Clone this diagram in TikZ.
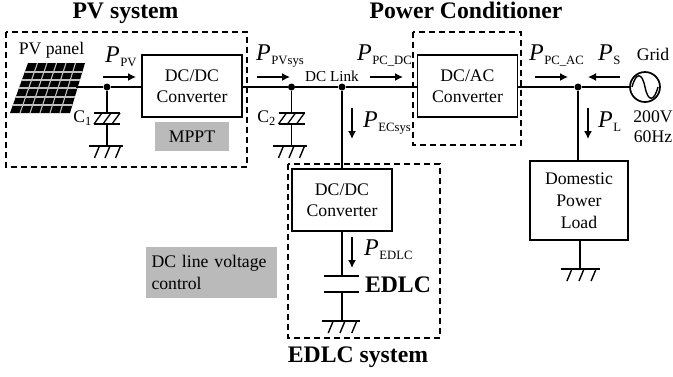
\documentclass[tikz,border=0pt]{standalone}
\usepackage{fontspec}
\setmainfont{Liberation Serif}
\usetikzlibrary{arrows.meta}
\tikzset{
 x=1pt,y=-1pt,
 wire/.style={line width=1.6pt},
 conv/.style={draw,line width=1.7pt,fill=white,align=center,font=\fontsize{17.7}{21}\selectfont,inner sep=0pt,minimum width=#1},
 conv/.default=100pt,
 dbox/.style={draw,line width=1.2pt,dash pattern=on 6pt off 4pt},
 flow/.style={line width=1.4pt,-{Latex[length=8pt,width=8pt]}},
 dot/.style={circle,fill=black,inner sep=0pt,minimum size=7pt},
 gbox/.style={fill=black!27,inner sep=0pt,font=\fontsize{17.7}{22}\selectfont},
 txt/.style={inner sep=0pt,font=\fontsize{17.7}{20}\selectfont,align=center},
 ttl/.style={inner sep=0pt,anchor=base,font=\fontsize{23.7}{26}\selectfont\bfseries},
 plab/.style={inner sep=0pt,anchor=base west,font=\fontsize{24}{24}\selectfont},
}
\newcommand{\plabel}[1]{\textit{P}\kern0.5pt{\fontsize{12.7}{13}\selectfont\raisebox{-4.5pt}{#1}}}
\newcommand{\low}[1]{\raisebox{-1.2pt}{#1}}
\newcommand{\gnd}[3]{% x, y, half width
 \draw[wire] (#1-#3,#2) -- (#1+#3,#2);
 \foreach \d in {-0.62,0,0.62}{
  \draw[line width=1.4pt] ({#1+\d*#3+4},#2) -- ({#1+\d*#3-1},#2+12);
 }}
\newcommand{\polcap}[3]{% x, ytop, ybot
 \draw[wire] (#1-13,#2) -- (#1+13,#2);
 \draw[wire] (#1-13,#3) -- (#1+13,#3);
 \foreach \d in {-8,1,10}{
  \draw[line width=1.3pt] (#1+\d+3,#2) -- (#1+\d-5,#3);
 }}
\begin{document}
\begin{tikzpicture}
\useasboundingbox (0,0) rectangle (673,376);
% dashed system boxes
\draw[dbox] (6,32) rectangle (247,167);
\draw[dbox] (413,32) rectangle (521,145);
\draw[dbox] (288,164) rectangle (440,338);
% panel
\fill (28,63) -- (85,63) -- (70,113) -- (10,113) -- cycle;
\begin{scope}
\clip (28,63) -- (85,63) -- (70,113) -- (10,113) -- cycle;
\foreach \y in {72,80,88,97,105}{\draw[white!75!black,line width=1.1pt] (0,\y) -- (90,\y);}
\foreach \x in {1,2,3,4,5}{\draw[white!75!black,line width=1.1pt] ({28+\x*9.5},63) -- ({10+\x*10},113);}
\end{scope}
% nodes
\node[conv,minimum height=62pt] (c1) at (192,86) {\low{DC/DC}\\\low{Converter}};
\node[conv,minimum height=62pt] (c2) at (467.5,86) {\low{DC/AC}\\\low{Converter}};
\node[conv,minimum height=62pt] (c3) at (342,200) {\low{DC/DC}\\\low{Converter}};
\node[conv=98pt,minimum height=79pt,font=\fontsize{17.7}{22}\selectfont] (load) at (579,200.5) {\low{Domestic}\\\low{Power}\\\low{Load}};
\node[draw,circle,line width=1.7pt,minimum size=30pt,inner sep=0pt] (grid) at (645,87) {};
\node[gbox,minimum width=74pt,minimum height=29pt] (mppt) at (192,136.5) {MPPT};
\node[gbox,minimum width=131pt,minimum height=51pt,align=left,text width=120pt] (dcl) at (211.5,272.5) {DC line voltage\\control};
\node[dot] (j1) at (107,87) {};
\node[dot] (j2) at (291.5,87) {};
\node[dot] (j3) at (342,87) {};
\node[dot] (j4) at (578,87) {};
\coordinate (pv) at (76,87);
% wires
\draw[wire] (pv) -- (j1) -- (c1.west|-j1);
\draw[wire] (c1.east|-j1) -- (j2) -- (j3) -- (c2.west|-j1);
\draw[wire] (c2.east|-j1) -- (j4) -- (grid.west);
\draw[wire] (j3) -- (c3.north);
\draw[wire] (j4) -- (j4|-load.north);
% sine
\draw[line width=1.4pt] (632,87) .. controls (636,72) and (642,72) .. (645,87) .. controls (648,102) and (654,102) .. (658,87);
% caps & grounds
\coordinate (g1) at (107,146);\coordinate (g2) at (291.5,146);
\draw[wire] (j1) -- (107,113); \draw[wire] (107,124) -- (g1);
\draw[wire] (j2) -- (291.5,113); \draw[wire] (291.5,124) -- (g2);
\polcap{107}{113}{124}
\polcap{291.5}{113}{124}
\gnd{106}{146}{17}
\gnd{290}{146}{17}
\draw[wire] (c3.south) -- (342,276);
\draw[wire] (342,292) -- (342,321);
\draw[wire] (324,276) -- (359,276);
\draw[wire] (324,292) -- (359,292);
\gnd{341}{321}{19}
\draw[wire] (580,240) -- (580,269);
\gnd{580}{269}{19.5}
% flow arrows
\draw[flow] (103,77) -- (136,77);
\draw[flow] (257,77) -- (290,77);
\draw[flow] (370,77) -- (403,77);
\draw[flow] (535,77) -- (568,77);
\draw[flow] (620,77) -- (588,77);
\draw[flow] (352,108) -- (352,139);
\draw[flow] (588,108) -- (588,139);
\draw[flow] (352,237) -- (352,268);
% texts
\node[ttl] at (125.5,18) {PV system};
\node[ttl] at (466,18) {Power Conditioner};
\node[ttl] at (358,362) {EDLC system};
\node[inner sep=0pt,font=\fontsize{23.7}{24}\selectfont\bfseries] at (398,285) {EDLC};
\node[txt] at (51.5,50) {PV panel};
\node[txt,font=\fontsize{15.2}{18}\selectfont] at (332,76) {DC Link};
\node[txt] at (653,54) {Grid};
\node[txt] at (653,127) {200V\\60Hz};
\node[txt,anchor=east] at (92,118) {C\textsubscript{1}};
\node[txt,anchor=east] at (276,118) {C\textsubscript{2}};
\node[plab] at (105,62) {\plabel{PV}};
\node[plab] at (256,60) {\plabel{PVsys}};
\node[plab] at (357,60) {\plabel{PC\_DC}};
\node[plab] at (529,60) {\plabel{PC\_AC}};
\node[plab] at (598,60) {\plabel{S}};
\node[plab] at (363,127) {\plabel{ECsys}};
\node[plab] at (598,127) {\plabel{L}};
\node[plab] at (364,255) {\plabel{EDLC}};
\end{tikzpicture}
\end{document}
